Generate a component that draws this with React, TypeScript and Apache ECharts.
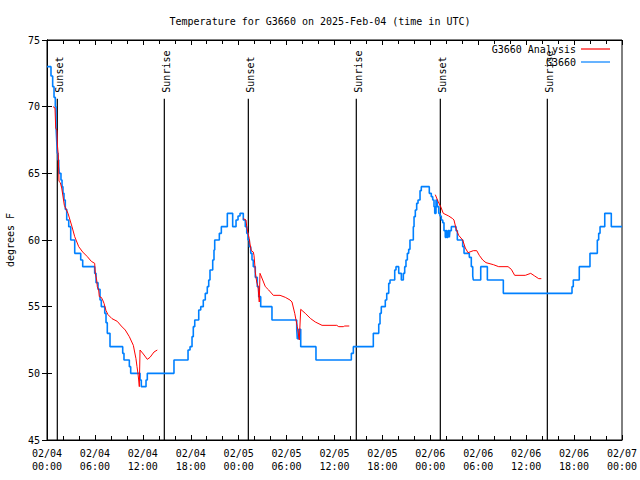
import React, { useEffect, useRef } from "react";
import * as echarts from "echarts";

// Hours since 2025-02-04 00:00 UTC, temperature in °F
const obsG3660: [number, number][] = [
  [0.0, 73], [0.5, 72.3], [0.71, 71.5], [0.88, 70.7], [1.04, 70], [1.13, 68.5], [1.21, 67.5],
  [1.29, 66.5], [1.38, 66], [1.47, 65.5], [1.54, 65], [1.75, 64.5], [1.88, 64], [2.0, 63.5],
  [2.13, 63], [2.29, 62.3], [2.47, 61.5], [2.72, 61], [2.97, 60], [3.47, 59], [4.22, 58.5],
  [4.47, 58], [5.97, 57.5], [6.14, 56.8], [6.39, 56.3], [6.64, 55.5], [6.8, 55], [7.23, 54.5],
  [7.39, 53.8], [7.55, 53], [7.89, 52], [9.48, 51.5], [9.64, 51], [10.31, 50.5], [10.48, 50],
  [11.65, 49.5], [11.81, 49], [12.4, 49.5], [12.56, 50], [15.9, 51], [17.66, 51.75], [17.91, 52],
  [18.16, 52.75], [18.32, 53.5], [18.5, 54], [19.0, 54.75], [19.25, 55], [19.57, 55.5],
  [19.82, 56], [20.07, 56.5], [20.25, 57], [20.41, 57.75], [20.75, 58.5], [20.91, 59.25],
  [21.0, 60], [21.58, 60.5], [21.83, 61], [22.58, 62], [23.25, 61], [23.67, 61.5], [23.92, 61.8],
  [24.17, 62], [24.58, 61.5], [24.83, 61], [25.01, 60.5], [25.17, 60], [25.33, 59.5], [25.51, 59],
  [25.67, 58.5], [25.83, 58], [26.08, 57.2], [26.33, 56.5], [26.51, 55.75], [26.76, 55],
  [28.17, 54], [31.27, 53.3], [31.34, 52.6], [31.52, 53.3], [31.77, 52], [33.68, 51],
  [38.11, 51.5], [38.36, 52], [40.86, 53], [41.54, 53.7], [41.7, 54.5], [41.86, 55], [42.36, 55.5],
  [42.54, 56], [42.79, 56.75], [42.95, 57], [43.54, 57.75], [43.7, 58], [44.04, 57.5], [44.37, 57],
  [44.62, 57.5], [44.79, 58], [44.95, 58.5], [45.12, 59], [45.29, 59.3], [45.45, 60], [45.87, 61],
  [45.96, 61.75], [46.12, 62.25], [46.29, 62.75], [46.46, 63], [46.71, 63.7], [46.87, 64],
  [47.87, 63.5], [48.12, 63.25], [48.3, 63], [48.46, 62.5], [48.55, 62], [48.71, 63], [48.87, 62.5],
  [49.05, 62], [49.21, 61.8], [49.37, 61.5], [49.55, 61.3], [49.71, 60.7], [49.87, 60.2],
  [49.96, 60.7], [50.05, 60.2], [50.21, 60.7], [50.38, 60.2], [50.46, 60.7], [50.63, 61],
  [51.22, 60.7], [51.38, 60], [52.05, 59.5], [52.22, 59], [52.88, 58.7], [53.13, 58], [53.31, 57.3],
  [53.38, 57], [54.31, 58], [55.14, 57], [57.14, 56], [65.74, 56.5], [65.9, 57], [66.65, 58],
  [67.99, 59], [68.91, 60], [69.08, 60.5], [69.25, 61], [69.84, 62], [70.66, 61], [72.0, 61],
];

const analysisNight1: [number, number][] = [
  [0.75, 70], [1.0, 69.9], [1.09, 68.4], [1.25, 68.2], [1.29, 67.2], [1.41, 66.4], [1.5, 64.4],
  [1.67, 64.3], [1.84, 63.9], [2.17, 62.6], [2.63, 62], [3.13, 61], [3.47, 60.25], [3.97, 59.5],
  [4.47, 59.1], [5.05, 58.75], [5.55, 58.4], [5.97, 58.25], [6.05, 57.5], [6.22, 57], [6.3, 56.5],
  [6.47, 56.25], [6.55, 55.75], [6.8, 55.7], [6.97, 55.5], [7.14, 55.25], [7.39, 54.7],
  [7.64, 54.4], [8.14, 54.1], [8.8, 53.9], [9.3, 53.55], [9.8, 53.25], [10.31, 52.75],
  [10.81, 52.1], [11.14, 51.1], [11.27, 50.5], [11.39, 50], [11.48, 49.5], [11.56, 49],
  [11.65, 51.75], [12.06, 51.45], [12.56, 51.05], [12.9, 51.2], [13.4, 51.6], [13.81, 51.75],
];

const analysisNight2: [number, number][] = [
  [24.58, 61.6], [24.92, 61.5], [25.01, 61.0], [25.17, 60.5], [25.33, 60.1], [25.42, 59.7],
  [25.58, 59.2], [25.83, 59.1], [25.92, 58.85], [26.01, 58.2], [26.08, 57.6], [26.26, 56.85],
  [26.42, 56.5], [26.51, 55.85], [26.58, 55.35], [26.67, 57.5], [27.01, 57.0], [27.34, 56.5],
  [27.76, 56.25], [28.34, 55.85], [29.18, 55.85], [29.84, 55.7], [30.43, 55.5], [30.68, 55.35],
  [31.02, 54.5], [31.34, 53.5], [31.59, 52.5], [31.77, 54.8], [32.34, 54.5], [33.02, 54.1],
  [33.6, 53.85], [34.44, 53.6], [36.28, 53.6], [36.53, 53.5], [37.1, 53.5], [37.28, 53.55],
  [37.85, 53.55],
];

const analysisNight3: [number, number][] = [
  [48.62, 63.4], [48.96, 62.9], [49.3, 62.5], [49.62, 62.0], [50.3, 61.8], [50.8, 61.6],
  [50.96, 61.5], [51.22, 60.85], [51.55, 60.35], [52.05, 60.0], [52.38, 59.4], [52.72, 59.05],
  [53.38, 59.2], [53.81, 59.2], [54.13, 58.85], [54.56, 58.5], [54.97, 58.3], [55.89, 58.15],
  [56.56, 58.0], [57.73, 58.0], [58.14, 57.8], [58.56, 57.35], [59.89, 57.35], [60.57, 57.5],
  [61.07, 57.3], [61.57, 57.1], [61.9, 57.1],
];

const sunEventHours = [1.29, 14.69, 25.21, 38.73, 49.25, 62.65];
const sunEventLabels = ["Sunset", "Sunrise", "Sunset", "Sunrise", "Sunset", "Sunrise"];
const sunLineTopValue = 70.6;

const TITLE = "Temperature for G3660 on 2025-Feb-04 (time in UTC)";
const FONT = "DejaVu Sans Mono";

const pad2 = (n: number) => String(n).padStart(2, "0");

export default function App() {
  const ref = useRef<HTMLDivElement>(null);
  useEffect(() => {
    if (!ref.current) return;
    const chart = echarts.init(ref.current, undefined, { renderer: "svg" });
    const txt = { fontFamily: FONT, fontSize: 10, color: "#000" };
    const mkX = (pos: "bottom" | "top", labels: boolean) => ({
      type: "value",
      position: pos,
      min: 0,
      max: 72,
      interval: 6,
      axisLine: { show: true, lineStyle: { color: "#000", width: 1 } },
      axisTick: { show: true, inside: true, length: 5, lineStyle: { color: "#000" } },
      minorTick: { show: true, splitNumber: 3, length: 4, lineStyle: { color: "#000" } },
      splitLine: { show: false },
      axisLabel: {
        show: labels,
        ...txt,
        margin: 7,
        lineHeight: 13,
        formatter: (v: number) => {
          const day = 4 + Math.floor(v / 24);
          const hh = v % 24;
          return `02/${pad2(day)}\n${pad2(hh)}:00`;
        },
      },
    });
    const mkY = (pos: "left" | "right", labels: boolean) => ({
      type: "value",
      position: pos,
      min: 45,
      max: 75,
      interval: 5,
      name: labels ? "degrees F" : "",
      nameLocation: "middle",
      nameRotate: 90,
      nameGap: 32,
      nameTextStyle: { ...txt },
      axisLine: { show: true, lineStyle: { color: "#000", width: 1 } },
      axisTick: { show: true, inside: true, length: 5, lineStyle: { color: "#000" } },
      splitLine: { show: false },
      axisLabel: { show: labels, ...txt, margin: 7 },
    });
    const analysisStyle = {
      type: "line",
      name: "G3660 Analysis",
      showSymbol: false,
      symbol: "none",
      color: "#ff0000",
      lineStyle: { color: "#ff0000", width: 1 },
      z: 3,
    };
    chart.setOption({
      animation: false,
      backgroundColor: "#fff",
      title: {
        text: TITLE,
        left: "center",
        top: 11,
        textStyle: { ...txt, fontWeight: "normal" },
      },
      legend: {
        data: ["G3660 Analysis", "G3660"],
        orient: "vertical",
        right: 25,
        top: 39,
        align: "right",
        icon: "rect",
        itemWidth: 29,
        itemHeight: 1.2,
        itemGap: 3,
        textStyle: { ...txt, lineHeight: 10 },
      },
      grid: {
        left: 47,
        right: 18,
        top: 40,
        bottom: 40,
        containLabel: false,
        outerBoundsMode: "none",
        show: true,
        borderColor: "#000",
        borderWidth: 1,
      },
      xAxis: [mkX("bottom", true), mkX("top", false)],
      yAxis: [mkY("left", true), mkY("right", false)],
      series: [
        {
          type: "custom",
          name: "sun",
          xAxisIndex: 0,
          yAxisIndex: 0,
          z: 1,
          data: sunEventHours.map((h, i) => [h, 45, sunEventLabels[i]]),
          encode: { x: 0, y: 1 },
          renderItem: (params: any, api: any) => {
            const h = api.value(0);
            const top = api.coord([h, sunLineTopValue]);
            const bot = api.coord([h, 45]);
            const label = sunEventLabels[params.dataIndex];
            return {
              type: "group",
              children: [
                {
                  type: "line",
                  shape: { x1: top[0], y1: top[1], x2: bot[0], y2: bot[1] },
                  style: { stroke: "#000", lineWidth: 1.2 },
                },
                {
                  type: "text",
                  x: top[0] + 2,
                  y: top[1] - 6,
                  rotation: Math.PI / 2,
                  style: {
                    text: label,
                    font: `10px ${FONT}`,
                    fill: "#000",
                    align: "left",
                    verticalAlign: "middle",
                  },
                },
              ],
            };
          },
        },
        { ...analysisStyle, data: analysisNight1 },
        { ...analysisStyle, data: analysisNight2 },
        { ...analysisStyle, data: analysisNight3 },
        {
          type: "line",
          name: "G3660",
          step: "end",
          showSymbol: false,
          symbol: "none",
          color: "#0080ff",
          lineStyle: { color: "#0080ff", width: 1.6 },
          data: obsG3660,
          z: 2,
        },
      ],
    });
    return () => chart.dispose();
  }, []);
  return (
    <div
      ref={ref}
      style={{ position: "fixed", left: 0, top: 0, width: 640, height: 480 }}
    />
  );
}
